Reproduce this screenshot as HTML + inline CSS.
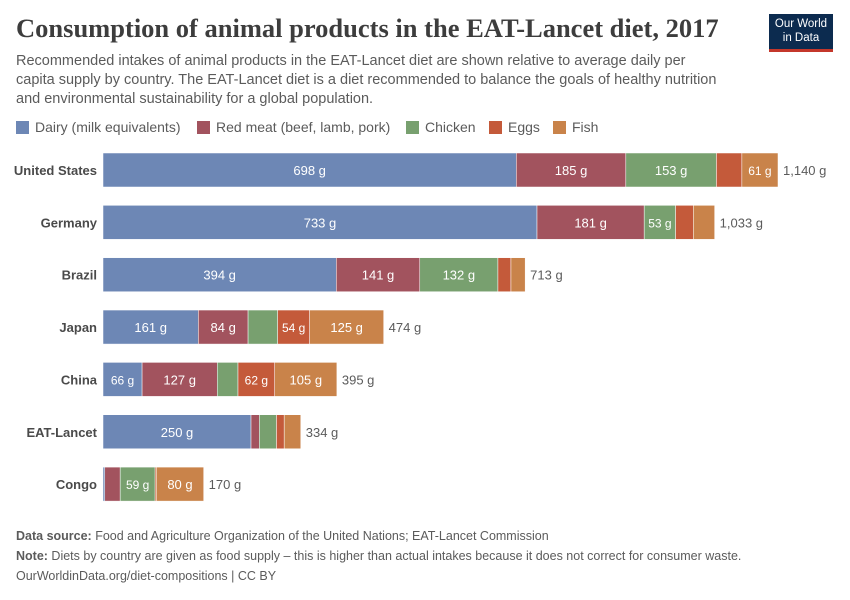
<!DOCTYPE html>
<html><head><meta charset="utf-8"><style>
body{margin:0;background:#fff;font-family:"Liberation Sans",sans-serif;}
#wrap{position:relative;width:850px;height:600px;overflow:hidden}
.t{position:absolute;white-space:nowrap}
</style></head><body>
<div id="wrap">
<div class="t" style="left:16px;top:13px;font-family:'Liberation Serif',serif;font-size:26.5px;font-weight:bold;color:#3d3d3d">Consumption of animal products in the EAT-Lancet diet, 2017</div>
<div class="t" style="left:16px;top:52px;font-size:14.5px;line-height:19px;color:#5b5b5b;white-space:normal;width:712px">Recommended intakes of animal products in the EAT-Lancet diet are shown relative to average daily per capita supply by country. The EAT-Lancet diet is a diet recommended to balance the goals of healthy nutrition and environmental sustainability for a global population.</div>
<div style="position:absolute;left:769px;top:14px;width:64px;height:38px;background:#0c2b4f;border-bottom:3px solid #c4372b;color:#fff;font-size:11.5px;line-height:14px;text-align:center;padding-top:3px;box-sizing:border-box">Our World<br>in Data</div>
<div id="legend"></div>
<svg id="chart" width="850" height="600" style="position:absolute;left:0;top:0"></svg>
<div class="t" style="left:16px;top:529px;font-size:12.5px;color:#5b5b5b"><b>Data source:</b> Food and Agriculture Organization of the United Nations; EAT-Lancet Commission</div>
<div class="t" style="left:16px;top:549px;font-size:12.5px;color:#5b5b5b"><b>Note:</b> Diets by country are given as food supply – this is higher than actual intakes because it does not correct for consumer waste.</div>
<div class="t" style="left:16px;top:569px;font-size:12.5px;color:#5b5b5b">OurWorldinData.org/diet-compositions | CC BY</div>
</div>
<script>
const countries=["United States","Germany","Brazil","Japan","China","EAT-Lancet","Congo"];
const seriesNames=["Dairy (milk equivalents)","Red meat (beef, lamb, pork)","Chicken","Eggs","Fish"];
const dairy=[698,733,394,161,66,250,3];
const redMeat=[185,181,141,84,127,14,26];
const chicken=[153,53,132,50,35,29,59];
const eggs=[43,30,22,54,62,13,2];
const fish=[61,36,24,125,105,28,80];
const totals=[1140,1033,713,474,395,334,170];
const colors=["#6d87b5","#a2535e","#78a06f","#c45a3a","#c9834a"];
const series=[dairy,redMeat,chicken,eggs,fish];
const x0=103,scale=675/1140;
const xs=v=>v*scale;
const ys=i=>170+i*52.35;
const bh=34;
const svg=document.getElementById('chart');
const NS="http://www.w3.org/2000/svg";
const leg=document.getElementById('legend');
let lx=16;
seriesNames.forEach((n,k)=>{
 const d=document.createElement('div');
 d.className='t';d.style.left=lx+'px';d.style.top='119px';d.style.fontSize='14px';d.style.color='#5b5b5b';
 d.innerHTML='<span style="display:inline-block;width:13px;height:13px;background:'+colors[k]+';vertical-align:-2px;margin-right:6px"></span>'+n;
 
 
 leg.appendChild(d);
 lx+=[181,209,83,64,60][k];
});
countries.forEach((c,i)=>{
 const cy=ys(i);
 const lab=document.createElementNS(NS,'text');
 lab.setAttribute('x',97);lab.setAttribute('y',cy+5);lab.setAttribute('text-anchor','end');
 lab.setAttribute('font-size','13');lab.setAttribute('font-weight','bold');lab.setAttribute('fill','#4a4a4a');
 lab.setAttribute('font-family','Liberation Sans, sans-serif');
 lab.textContent=c;
 
 
 svg.appendChild(lab);
 let acc=0;
 series.forEach((s,k)=>{
  const v=s[i];const x=x0+xs(acc);const w=xs(v);
  const r=document.createElementNS(NS,'rect');
  r.setAttribute('x',x);r.setAttribute('y',cy-bh/2);r.setAttribute('width',w);r.setAttribute('height',bh);
  r.setAttribute('fill',colors[k]);r.setAttribute('stroke','#fff');r.setAttribute('stroke-width','0.5');
  
  
  svg.appendChild(r);
  const txt=v+' g';
  if(w>30.5){
   const t=document.createElementNS(NS,'text');
   t.setAttribute('x',x+w/2);t.setAttribute('y',cy+5);t.setAttribute('text-anchor','middle');
   t.setAttribute('font-size','13');t.setAttribute('fill','#fff');t.setAttribute('font-family','Liberation Sans, sans-serif');
   if(w<40){t.setAttribute('font-size','12');}
   t.textContent=txt;
   
   
   svg.appendChild(t);
  }
  acc+=v;
 });
 const tt=document.createElementNS(NS,'text');
 tt.setAttribute('x',x0+xs(acc)+5);tt.setAttribute('y',cy+5);
 tt.setAttribute('font-size','13');tt.setAttribute('fill','#5b5b5b');tt.setAttribute('font-family','Liberation Sans, sans-serif');
 tt.textContent=totals[i].toLocaleString('en-US')+' g';
 
 
 svg.appendChild(tt);
});
</script>
</body></html>
